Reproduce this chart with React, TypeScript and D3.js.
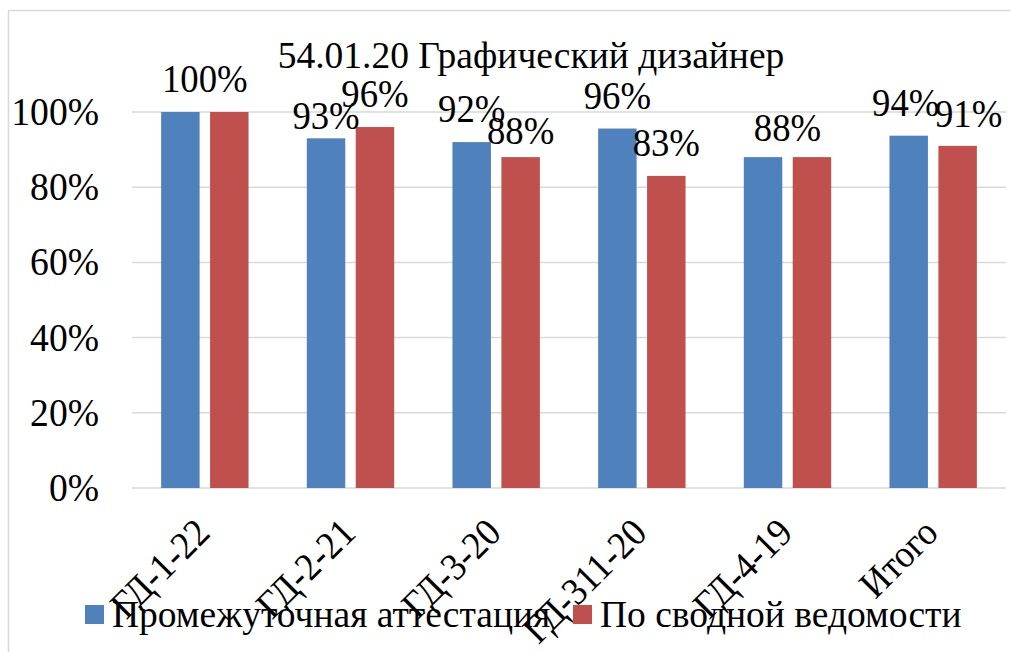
import { useMemo } from 'react';
import { scaleBand, scaleLinear } from 'd3';

// chart data
const categories = ['ГД-1-22', 'ГД-2-21', 'ГД-3-20', 'ГД-311-20', 'ГД-4-19', 'Итого'];
const seriesNames = ['Промежуточная аттестация', 'По сводной ведомости'];
const attestation = [100, 93, 92, 95.6, 88, 93.7];
const summary = [100, 96, 88, 83, 88, 91];
const yTicks = [0, 20, 40, 60, 80, 100];
const title = '54.01.20 Графический дизайнер';

const COLORS = ['#4F81BD', '#C0504D'];
const FONT = "'Liberation Serif', 'Times New Roman', serif";

// hand-placed data labels in the original (dx, dy from default spot)
const labelShift: Record<string, [number, number]> = {
  '1-0': [0, 11],
  '2-1': [0, 7],
  '4-0': [0, 4],
  '5-0': [-3, 0],
  '5-1': [11, 1],
};

const W = 1011;
const H = 652;
const margin = { top: 112, right: 5, bottom: 164, left: 132 };

type TxtProps = {
  x: number;
  y: number;
  size: number;
  sx?: number;
  rot?: number;
  anchor?: 'start' | 'middle' | 'end';
  children: string;
};

const Txt = ({ x, y, size, sx = 1, rot = 0, anchor = 'middle', children }: TxtProps) => (
  <text
    transform={`translate(${x},${y}) rotate(${rot}) scale(${sx},1)`}
    textAnchor={anchor}
    style={{ fontFamily: FONT, fontSize: size }}
    fill="#000"
  >
    {children}
  </text>
);

const App = () => {
  const innerW = W - margin.left - margin.right;
  const innerH = H - margin.top - margin.bottom;

  const x0 = useMemo(
    () => scaleBand<string>().domain(categories).range([0, innerW]).paddingInner(0.4).paddingOuter(0.2),
    [innerW]
  );
  const x1 = useMemo(
    () => scaleBand<string>().domain(seriesNames).range([0, x0.bandwidth()]).paddingInner(0.214),
    [x0]
  );
  const y = useMemo(() => scaleLinear().domain([0, 100]).range([innerH, 0]), [innerH]);

  const series = [attestation, summary];

  return (
    <svg width={W} height={H} style={{ position: 'absolute', left: 0, top: 0, background: '#fff' }}>
      <rect x={8.5} y={10.5} width={W + 40} height={H + 40} fill="#fff" stroke="#D9D9D9" strokeWidth={1.5} />

      <Txt x={531} y={68} size={37.5}>{title}</Txt>

      <g transform={`translate(${margin.left},${margin.top})`}>
        {yTicks.map((t) => (
          <g key={t}>
            <line x1={0} x2={innerW} y1={y(t)} y2={y(t)} stroke="#D9D9D9" strokeWidth={1.5} />
            <Txt x={-33} y={y(t) + 13} size={40} sx={0.94} anchor="end">{`${t}%`}</Txt>
          </g>
        ))}

        {categories.map((c, i) => (
          <g key={c} transform={`translate(${x0(c)},0)`}>
            {series.map((vals, s) => (
              <rect
                key={s}
                x={x1(seriesNames[s])}
                y={y(vals[i])}
                width={x1.bandwidth()}
                height={innerH - y(vals[i])}
                fill={COLORS[s]}
              />
            ))}
            {Math.round(attestation[i]) === Math.round(summary[i]) ? (
              <Txt
                x={x0.bandwidth() / 2}
                y={y(attestation[i]) - 20 + (i === 4 ? 4 : 0)}
                size={39.5}
                sx={0.93}
              >
                {`${Math.round(attestation[i])}%`}
              </Txt>
            ) : (
              series.map((vals, s) => {
                const [dx, dy] = labelShift[`${i}-${s}`] ?? [0, 0];
                return (
                  <Txt
                    key={s}
                    x={(x1(seriesNames[s]) ?? 0) + x1.bandwidth() / 2 + dx}
                    y={y(vals[i]) - 20 + dy}
                    size={39.5}
                    sx={0.93}
                  >
                    {`${Math.round(vals[i])}%`}
                  </Txt>
                );
              })
            )}
          </g>
        ))}

        {categories.map((c) => (
          <Txt
            key={c}
            x={(x0(c) ?? 0) + x0.bandwidth() / 2 + 7}
            y={innerH + 47}
            size={39}
            sx={0.93}
            rot={-45}
            anchor="end"
          >
            {c}
          </Txt>
        ))}
      </g>

      {/* legend */}
      <rect x={85} y={605} width={19} height={19} fill={COLORS[0]} />
      <Txt x={112} y={627} size={37.5} anchor="start">{seriesNames[0]}</Txt>
      <rect x={573} y={605} width={19} height={19} fill={COLORS[1]} />
      <Txt x={600} y={627} size={37.5} anchor="start">{seriesNames[1]}</Txt>
    </svg>
  );
};

export default App;
